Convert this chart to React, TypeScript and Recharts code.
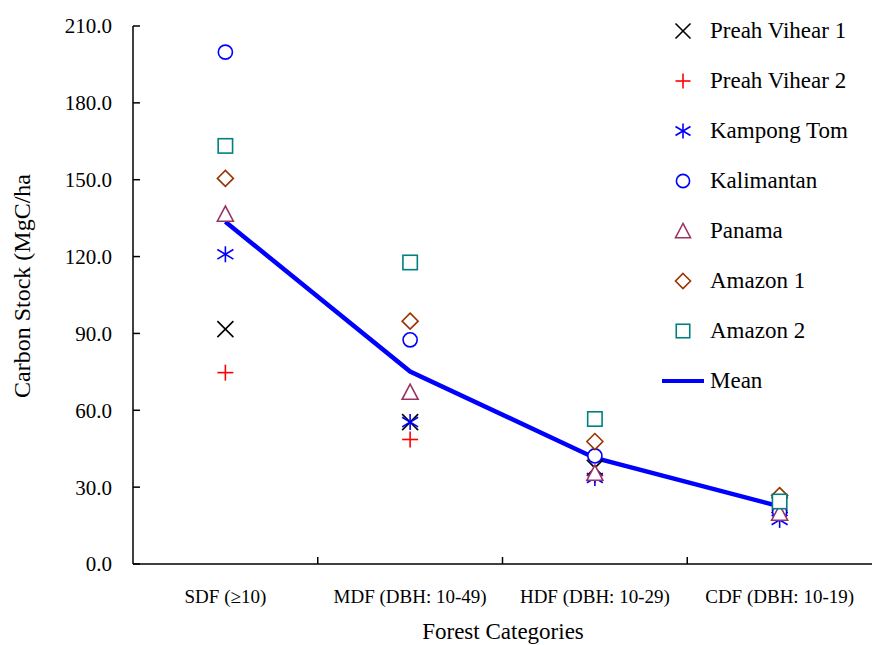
import { ComposedChart, Line, Scatter, XAxis, YAxis, Label } from 'recharts';

const categories = ['SDF (\u226510)', 'MDF (DBH: 10-49)', 'HDF (DBH: 10-29)', 'CDF (DBH: 10-19)'];

const preahVihear1 = [91.7, 55.4, 37.5, 23.0];
const preahVihear2 = [74.7, 48.6, 34.7, 21.0];
const kampongTom = [120.9, 55.4, 33.6, 17.2];
const kalimantan = [199.8, 87.5, 42.2, 20.3];
const panama = [136.6, 67.1, 35.5, 19.9];
const amazon1 = [150.5, 94.8, 47.8, 26.7];
const amazon2 = [163.2, 117.7, 56.6, 24.4];
const mean = [133.6, 75.1, 41.4, 22.5];

const yTicks = [0, 30, 60, 90, 120, 150, 180, 210];

const series = [
    { key: 'pv1', name: 'Preah Vihear 1', values: preahVihear1, kind: 'x', color: '#000000' },
    { key: 'pv2', name: 'Preah Vihear 2', values: preahVihear2, kind: 'plus', color: '#ff0000' },
    { key: 'kt', name: 'Kampong Tom', values: kampongTom, kind: 'star', color: '#0000ff' },
    { key: 'kal', name: 'Kalimantan', values: kalimantan, kind: 'circle', color: '#0000ff' },
    { key: 'pan', name: 'Panama', values: panama, kind: 'triangle', color: '#993366' },
    { key: 'am1', name: 'Amazon 1', values: amazon1, kind: 'diamond', color: '#993300' },
    { key: 'am2', name: 'Amazon 2', values: amazon2, kind: 'square', color: '#008080' },
];

const data = categories.map((cat, i) => {
    const row: Record<string, string | number> = { cat, mean: mean[i] };
    series.forEach((s) => {
        row[s.key] = s.values[i];
    });
    return row;
});

const FONT = "'Times New Roman', 'Liberation Serif', serif";

const WIDTH = 872;
const HEIGHT = 645;
const Y_AXIS_W = 133;
// half of one category slot, so points sit in the middle of each slot
const HALF_SLOT = (WIDTH - Y_AXIS_W) / categories.length / 2;

function Marker({ kind, cx, cy, color, s = 8 }: { kind: string; cx: number; cy: number; color: string; s?: number }) {
    const sw = 1.6;
    if (kind === 'x') {
        return (
            <g stroke={color} strokeWidth={sw}>
                <line x1={cx - s} y1={cy - s} x2={cx + s} y2={cy + s} />
                <line x1={cx - s} y1={cy + s} x2={cx + s} y2={cy - s} />
            </g>
        );
    }
    if (kind === 'plus') {
        return (
            <g stroke={color} strokeWidth={sw}>
                <line x1={cx - s} y1={cy} x2={cx + s} y2={cy} />
                <line x1={cx} y1={cy - s} x2={cx} y2={cy + s} />
            </g>
        );
    }
    if (kind === 'star') {
        return (
            <g stroke={color} strokeWidth={sw}>
                <line x1={cx} y1={cy - s} x2={cx} y2={cy + s} />
                <line x1={cx - s} y1={cy - s * 0.6} x2={cx + s} y2={cy + s * 0.6} />
                <line x1={cx - s} y1={cy + s * 0.6} x2={cx + s} y2={cy - s * 0.6} />
            </g>
        );
    }
    if (kind === 'circle') {
        return <circle cx={cx} cy={cy} r={s * 0.88} fill="#fff" stroke={color} strokeWidth={sw} />;
    }
    if (kind === 'triangle') {
        return (
            <polygon
                points={`${cx},${cy - s} ${cx - s},${cy + s * 0.9} ${cx + s},${cy + s * 0.9}`}
                fill="#fff"
                stroke={color}
                strokeWidth={sw}
            />
        );
    }
    if (kind === 'diamond') {
        return (
            <polygon
                points={`${cx},${cy - s} ${cx + s},${cy} ${cx},${cy + s} ${cx - s},${cy}`}
                fill="#fff"
                stroke={color}
                strokeWidth={sw}
            />
        );
    }
    const h = s * 0.9;
    return <rect x={cx - h} y={cy - h} width={h * 2} height={h * 2} fill="#fff" stroke={color} strokeWidth={sw} />;
}

function CategoryTick(props: any) {
    const { x, y, payload, index } = props;
    return (
        <g>
            {index < categories.length - 1 && (
                <line x1={x + HALF_SLOT} y1={y} x2={x + HALF_SLOT} y2={y - 7} stroke="#000" strokeWidth={1.5} />
            )}
            <text x={x} y={y + 39} textAnchor="middle" fontSize={19} fontFamily={FONT} fill="#000">
                {payload.value}
            </text>
        </g>
    );
}

function ChartLegend() {
    return (
        <div style={{ position: 'absolute', left: 660, top: 6, width: 212, fontFamily: FONT, fontSize: 23 }}>
            {series.map((s) => (
                <div key={s.key} style={{ height: 50, display: 'flex', alignItems: 'center' }}>
                    <svg width={46} height={50}>
                        <Marker kind={s.kind} cx={23} cy={25} color={s.color} s={7.5} />
                    </svg>
                    <span style={{ marginLeft: 4 }}>{s.name}</span>
                </div>
            ))}
            <div style={{ height: 50, display: 'flex', alignItems: 'center' }}>
                <svg width={46} height={50}>
                    <line x1={2} y1={25} x2={44} y2={25} stroke="#0000ff" strokeWidth={4} />
                </svg>
                <span style={{ marginLeft: 4 }}>Mean</span>
            </div>
        </div>
    );
}

export default function App() {
    return (
        <div style={{ position: 'absolute', left: 0, top: 0, width: WIDTH, height: HEIGHT, background: '#fff' }}>
            <ComposedChart width={WIDTH} height={HEIGHT} data={data} margin={{ top: 26, right: 0, bottom: 0, left: 0 }}>
                <XAxis
                    dataKey="cat"
                    height={81}
                    padding={{ left: HALF_SLOT, right: HALF_SLOT }}
                    axisLine={{ stroke: '#000', strokeWidth: 1.5 }}
                    tickLine={false}
                    tickSize={0}
                    tickMargin={0}
                    tick={<CategoryTick />}
                    interval={0}
                >
                    <Label
                        content={() => (
                            <text x={503} y={639} textAnchor="middle" fontSize={23} fontFamily={FONT} fill="#000">
                                Forest Categories
                            </text>
                        )}
                    />
                </XAxis>
                <YAxis
                    width={Y_AXIS_W}
                    domain={[0, 210]}
                    ticks={yTicks}
                    interval={0}
                    axisLine={{ stroke: '#000', strokeWidth: 1.5 }}
                    tickLine={{ stroke: '#000', strokeWidth: 1.5 }}
                    tickSize={-7}
                    tickMargin={28}
                    tickFormatter={(v: number) => v.toFixed(1)}
                    tick={{ fontSize: 21, fontFamily: FONT, fill: '#000' }}
                >
                    <Label
                        content={() => (
                            <text
                                x={30}
                                y={286}
                                transform="rotate(-90 30 286)"
                                textAnchor="middle"
                                fontSize={24}
                                fontFamily={FONT}
                                fill="#000"
                            >
                                Carbon Stock (MgC/ha
                            </text>
                        )}
                    />
                </YAxis>
                <Line
                    dataKey="mean"
                    stroke="#0000ff"
                    strokeWidth={4.5}
                    dot={false}
                    activeDot={false}
                    type="linear"
                    isAnimationActive={false}
                />
                {series.map((s) => (
                    <Scatter
                        key={s.key}
                        dataKey={s.key}
                        name={s.name}
                        isAnimationActive={false}
                        shape={(p: any) => <Marker kind={s.kind} cx={p.cx} cy={p.cy} color={s.color} />}
                    />
                ))}
            </ComposedChart>
            <ChartLegend />
        </div>
    );
}
